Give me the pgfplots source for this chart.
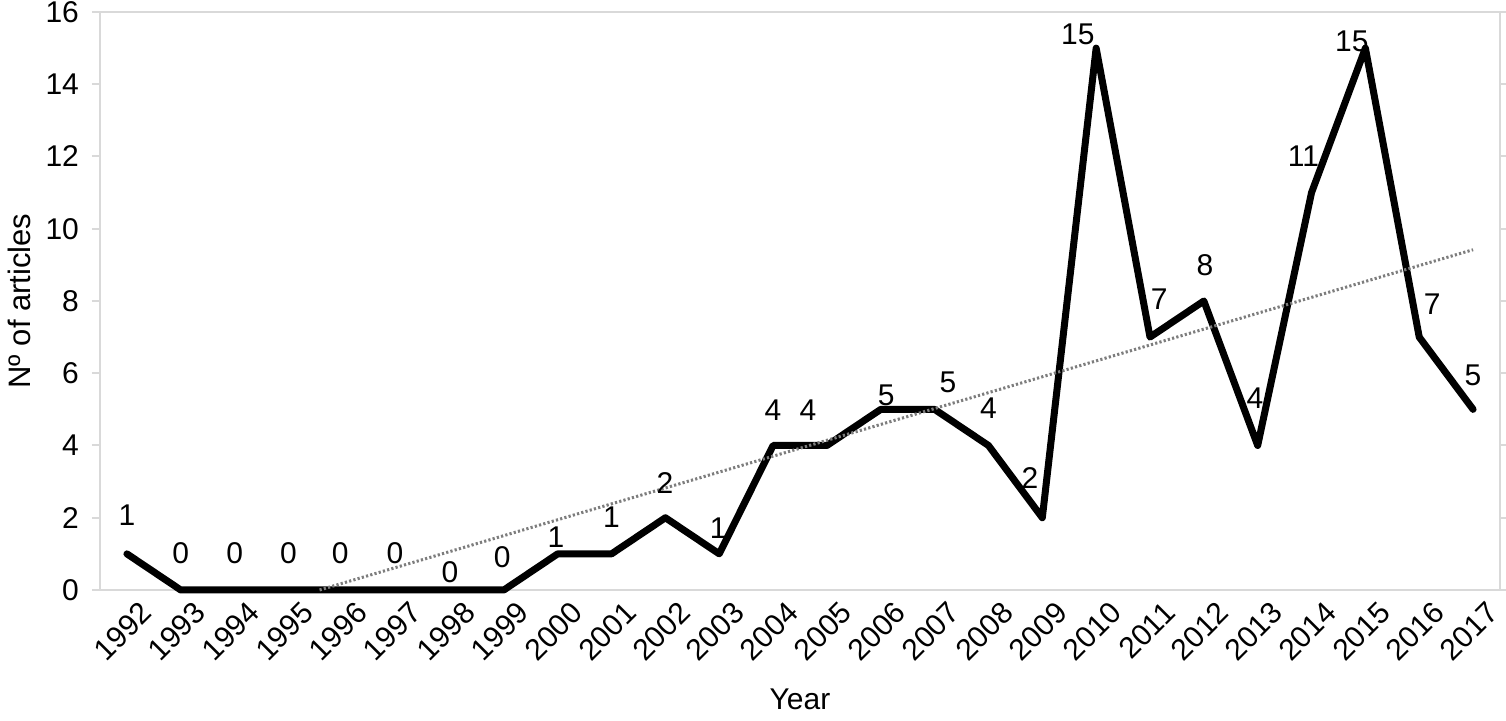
\documentclass[border=0pt]{standalone}
\usepackage{fontspec}
\setmainfont{Liberation Sans}
\usepackage{pgfplots}
\pgfplotsset{compat=1.18}
\definecolor{axgray}{RGB}{217,217,217}
\definecolor{trendgray}{RGB}{125,125,125}
\begin{document}
\begin{tikzpicture}
\begin{axis}[name=ax, scale only axis, width=700pt, height=289pt,
  xmin=-0.5, xmax=25.5, ymin=0, ymax=16,
  xtick={0,...,25},
  xticklabels={1992,1993,1994,1995,1996,1997,1998,1999,2000,2001,2002,2003,2004,2005,2006,2007,2008,2009,2010,2011,2012,2013,2014,2015,2016,2017},
  minor xtick={-0.5,0.5,...,25.5},
  ytick={0,2,...,16},
  axis line style={axgray, line width=1pt},
  tick align=outside,
  major tick length=4pt, minor tick length=3.5pt,
  every tick/.style={axgray, line width=1pt},
  xtick style={draw=none},
  every minor x tick/.style={axgray, line width=1pt},
  /pgf/number format/assume math mode=true,
  xticklabel style={rotate=45, anchor=north east, font=\fontsize{15}{17}\selectfont, text=black, xshift=7pt, yshift=-1.5pt},
  yticklabel style={font=\fontsize{15}{17}\selectfont, text=black, xshift=-3pt},
  xlabel={Year}, ylabel={Nº of articles},
  xlabel style={font=\fontsize{15}{17}\selectfont, at={(axis description cs:0.5,-0.19)}, anchor=center},
  ylabel style={font=\fontsize{15.5}{17}\selectfont, at={(axis description cs:-0.0575,0.5)}, anchor=center, rotate=0},
  clip=false,
]
\addplot[black, line width=3.5pt, line join=round, line cap=round] coordinates {
(0,1)(1,0)(2,0)(3,0)(4,0)(5,0)(6,0)(7,0)(8,1)(9,1)(10,2)(11,1)(12,4)(13,4)(14,5)(15,5)(16,4)(17,2)(18,15)(19,7)(20,8)(21,4)(22,11)(23,15)(24,7)(25,5)};
\addplot[trendgray, line width=1.5pt, dash pattern=on 1.1pt off 1.1pt] coordinates {(3.578,0)(25,9.42)};
\begin{scope}[every node/.style={font=\fontsize{15}{17}\selectfont, inner sep=0pt}]
\node at (axis cs:0,2.08) {1};
\node at (axis cs:1,1.02) {0};
\node at (axis cs:2,1.02) {0};
\node at (axis cs:3,1.02) {0};
\node at (axis cs:3.96,1.02) {0};
\node at (axis cs:4.98,1.02) {0};
\node at (axis cs:6,0.5) {0};
\node at (axis cs:6.97,0.91) {0};
\node at (axis cs:7.97,1.47) {1};
\node at (axis cs:9,2.02) {1};
\node at (axis cs:9.99,2.96) {2};
\node at (axis cs:10.98,1.72) {1};
\node at (axis cs:12,4.98) {4};
\node at (axis cs:12.65,4.98) {4};
\node at (axis cs:14.1,5.4) {5};
\node at (axis cs:15.25,5.76) {5};
\node at (axis cs:16,5.04) {4};
\node at (axis cs:16.77,3.1) {2};
\node at (axis cs:17.66,15.39) {15};
\node at (axis cs:19.17,8.06) {7};
\node at (axis cs:20.02,9.0) {8};
\node at (axis cs:20.95,5.31) {4};
\node at (axis cs:21.85,12.0) {11};
\node at (axis cs:22.75,15.2) {15};
\node at (axis cs:24.24,7.9) {7};
\node at (axis cs:25.0,5.95) {5};
\end{scope}
\end{axis}
\pgfresetboundingbox
\path[use as bounding box] ([xshift=-50pt,yshift=-65.5pt]ax.south west) rectangle ([xshift=3pt,yshift=6pt]ax.north east);
\end{tikzpicture}
\end{document}
